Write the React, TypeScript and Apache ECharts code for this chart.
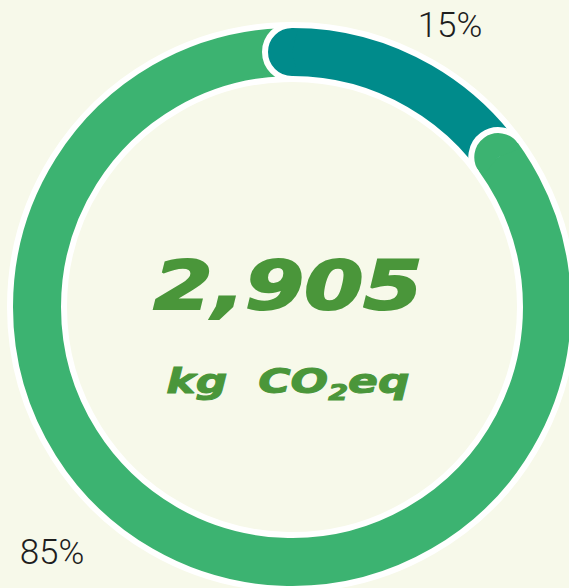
import React, { useEffect, useRef } from "react";
import * as echarts from "echarts";

const CATEGORIES = ["Part 1", "Part 2"];
const VALUES = [15, 85];
const COLORS = ["#008b8b", "#3cb371"];
const TOTAL_TEXT = "2,905";
const UNIT_MAIN = "kg  CO";
const UNIT_SUB = "2";
const UNIT_END = "eq";

const W = 569;
const H = 588;
const CX = 292;
const CY = 307;
const R0 = 228;
const R1 = 282;
const START_ANGLE = 90;
const BORDER = 6;
const TEXT_GREEN = "#4a963a";

export default function App() {
  const ref = useRef<HTMLDivElement>(null);
  useEffect(() => {
    if (!ref.current) return;
    const chart = echarts.init(ref.current, null, { renderer: "svg" });
    const total = VALUES.reduce((a, b) => a + b, 0);
    const labelPos = [
      { x: 450, y: 25 },
      { x: 52, y: 552 },
    ];
    const renderCap = (params: any) => {
      const i = params.dataIndex;
      const before = VALUES.slice(0, i).reduce((a, b) => a + b, 0);
      const deg = START_ANGLE - (before / total) * 360;
      const th = (deg * Math.PI) / 180;
      const rm = (R0 + R1) / 2;
      const capR = (R1 - R0) / 2;
      const ccx = CX + rm * Math.cos(th);
      const ccy = CY - rm * Math.sin(th);
      const aDir = Math.atan2(-Math.cos(th), -Math.sin(th));
      return {
        type: "group",
        children: [
          {
            type: "sector",
            shape: {
              cx: ccx,
              cy: ccy,
              r: capR,
              r0: 0,
              startAngle: aDir - Math.PI / 2 - 0.25,
              endAngle: aDir + Math.PI / 2 + 0.25,
              clockwise: true,
            },
            style: { fill: COLORS[i] },
          },
          {
            type: "arc",
            shape: {
              cx: ccx,
              cy: ccy,
              r: capR,
              startAngle: aDir - Math.PI / 2,
              endAngle: aDir + Math.PI / 2,
              clockwise: true,
            },
            style: { stroke: "#ffffff", lineWidth: BORDER, fill: "none" },
          },
        ],
      };
    };
    chart.setOption({
      animation: false,
      backgroundColor: "#f7f9ea",
      series: [
        {
          type: "pie",
          center: [CX, CY],
          radius: [R0, R1],
          startAngle: START_ANGLE,
          clockwise: true,
          silent: true,
          z: 2,
          itemStyle: { borderWidth: 0 },
          label: {
            show: true,
            position: "outside",
            formatter: "{d}%",
            fontFamily: "Roboto",
            fontWeight: 300,
            fontSize: 35,
            color: "#1e1e1e",
          },
          labelLine: { show: false },
          labelLayout: (p: any) => ({
            x: labelPos[p.dataIndex].x,
            y: labelPos[p.dataIndex].y,
            align: "center",
            verticalAlign: "middle",
          }),
          data: CATEGORIES.map((name, i) => ({
            name,
            value: VALUES[i],
            itemStyle: { color: COLORS[i] },
          })),
        },
        {
          type: "custom",
          coordinateSystem: "none",
          silent: true,
          z: 3,
          renderItem: renderCap,
          data: VALUES,
        },
      ],
      graphic: [
        {
          type: "circle",
          z: 100,
          shape: { cx: CX, cy: CY, r: R1 },
          style: { fill: "none", stroke: "#ffffff", lineWidth: BORDER },
          silent: true,
        },
        {
          type: "circle",
          z: 100,
          shape: { cx: CX, cy: CY, r: R0 },
          style: { fill: "none", stroke: "#ffffff", lineWidth: BORDER },
          silent: true,
        },
        {
          type: "text",
          z: 100,
          x: 288,
          y: 286,
          scaleX: 1.25,
          style: {
            text: TOTAL_TEXT,
            fontFamily: "DejaVu Sans",
            fontWeight: "bold",
            fontStyle: "italic",
            fontSize: 68,
            fill: TEXT_GREEN,
            stroke: TEXT_GREEN,
            lineWidth: 2,
            align: "center",
            verticalAlign: "middle",
          },
        },
        {
          type: "text",
          z: 100,
          x: 288,
          y: 381,
          scaleX: 1.3,
          style: {
            text: `{n|${UNIT_MAIN}}{s|${UNIT_SUB}}{n|${UNIT_END}}`,
            align: "center",
            verticalAlign: "middle",
            rich: {
              n: {
                fontFamily: "DejaVu Sans",
                fontWeight: "bold",
                fontStyle: "italic",
                fontSize: 34,
                lineHeight: 40,
                fill: TEXT_GREEN,
                stroke: TEXT_GREEN,
                lineWidth: 1,
              },
              s: {
                fontFamily: "DejaVu Sans",
                fontWeight: "bold",
                fontStyle: "italic",
                fontSize: 22,
                lineHeight: 40,
                padding: [22, 0, 0, 0],
                fill: TEXT_GREEN,
                stroke: TEXT_GREEN,
                lineWidth: 1,
              },
            },
          },
        },
      ],
    });
    return () => chart.dispose();
  }, []);
  return (
    <div
      ref={ref}
      style={{ position: "fixed", left: 0, top: 0, width: W, height: H }}
    />
  );
}
